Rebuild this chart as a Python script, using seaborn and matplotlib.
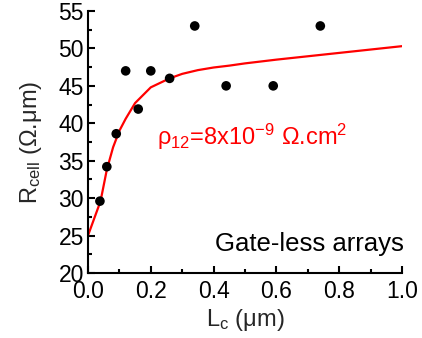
import matplotlib
matplotlib.use("Agg")
import matplotlib.pyplot as plt
import seaborn as sns
import pandas as pd
from matplotlib.ticker import MultipleLocator

# measured data
lc_points = [0.038, 0.06, 0.09, 0.12, 0.16, 0.20, 0.26, 0.34, 0.44, 0.59, 0.74]
r_points = [29.6, 34.2, 38.6, 47.0, 41.9, 47.0, 46.0, 53.0, 45.0, 45.0, 53.0]

# fitted curve
lc_fit = [0.0, 0.02, 0.04, 0.06, 0.08, 0.10, 0.12, 0.15, 0.20, 0.26, 0.30, 0.35, 0.40, 0.45, 0.50, 0.60, 0.80, 1.00]
r_fit = [25.0, 27.3, 29.6, 33.8, 36.8, 39.0, 40.6, 42.7, 44.8, 46.0, 46.6, 47.1, 47.45, 47.7, 48.0, 48.5, 49.4, 50.3]

x_ticks = [0.0, 0.2, 0.4, 0.6, 0.8, 1.0]
y_ticks = [20, 25, 30, 35, 40, 45, 50, 55]

sns.set_style("ticks")
plt.rcParams['font.family'] = ['Liberation Sans', 'DejaVu Sans']
plt.rcParams['mathtext.fontset'] = 'custom'
plt.rcParams['mathtext.rm'] = 'Liberation Sans'
plt.rcParams['mathtext.it'] = 'Liberation Sans:italic'
plt.rcParams['mathtext.bf'] = 'Liberation Sans:bold'

fig = plt.figure(figsize=(4.22, 3.38), dpi=100)
ax = fig.add_axes([0.2085, 0.1923, 0.744, 0.7752])

df_fit = pd.DataFrame({"x": lc_fit, "y": r_fit})
df_pts = pd.DataFrame({"x": lc_points, "y": r_points})
sns.lineplot(data=df_fit, x="x", y="y", ax=ax, color="#ff0000", linewidth=1.6, zorder=2)
sns.scatterplot(data=df_pts, x="x", y="y", ax=ax, color="black", s=48, edgecolor="none", zorder=3)

ax.set_xlim(0, 1.0)
ax.set_ylim(20, 55)
ax.set_xticks(x_ticks)
ax.set_xticklabels([f"{v:.1f}" for v in x_ticks])
ax.set_yticks(y_ticks)
ax.set_yticklabels([str(v) for v in y_ticks])
ax.xaxis.set_minor_locator(MultipleLocator(0.1))
ax.yaxis.set_minor_locator(MultipleLocator(2.5))
ax.tick_params(which='major', direction='in', length=5, width=1.5, labelsize=16.5, pad=3, colors='black')
ax.tick_params(axis='x', which='major', pad=5)
ax.tick_params(which='minor', direction='in', length=3, width=1.5, colors='black')
for s in ['left', 'bottom']:
    ax.spines[s].set_linewidth(1.5)
    ax.spines[s].set_color('black')
for s in ['top', 'right']:
    ax.spines[s].set_visible(False)

ax.set_xlabel(r"L$_\mathregular{c}$ (μm)", fontsize=17, labelpad=3)
ax.set_ylabel(r"R$_\mathregular{cell}$ (Ω.μm)", fontsize=17, labelpad=10)

ax.text(0.22, 37.1, r"$\mathregular{\rho_{12}}$=8x10$^\mathregular{-9}$ Ω.cm$^\mathregular{2}$",
        color="#ff0000", fontsize=17, ha='left', va='baseline')
ax.text(1.005, 22.9, "Gate-less arrays", color="black", fontsize=18.5, ha='right', va='baseline')

fig.savefig("out.png", dpi=100)
